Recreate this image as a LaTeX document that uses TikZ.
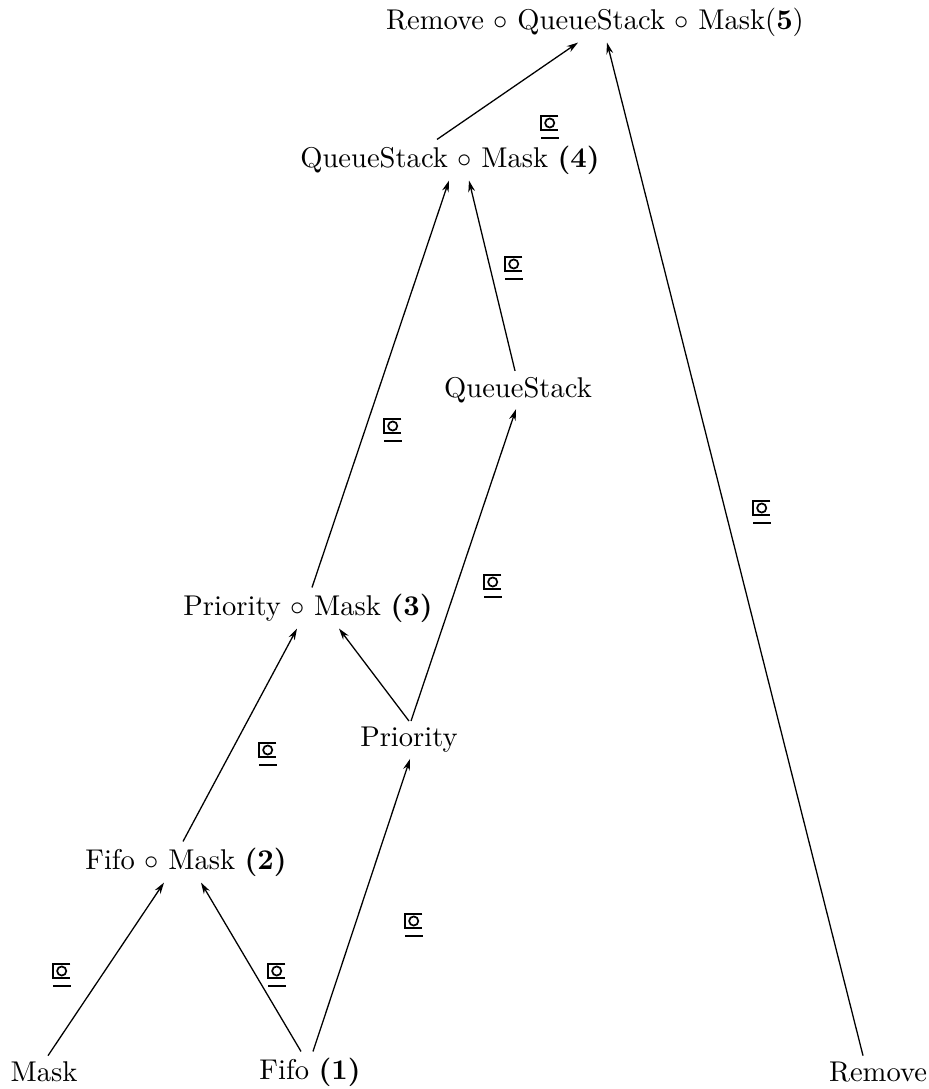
\documentclass[tikz,border=0pt]{standalone}
\usetikzlibrary{arrows.meta,calc}
\newsavebox\symbox
\sbox\symbox{\tikz[line width=0.6pt,baseline=0pt]{
  \draw (6pt,6.4pt) -- (0,6.4pt) -- (0,1.4pt) -- (6pt,1.4pt);
  \draw (3pt,3.9pt) circle (1.6pt);
  \draw (0,-1.4pt) -- (6.2pt,-1.4pt);
}}
\tikzset{
  lab/.style={font=\normalsize, inner sep=2pt},
  sym/.style={inner sep=0pt},
  arr/.style={line width=0.45pt, -{Stealth[length=4pt,width=2.4pt]}}
}
\begin{document}
\begin{tikzpicture}[x=0.35pt,y=-0.35pt]
\useasboundingbox (0,0) rectangle (928,1089);
\node[lab] (n5) at (595,22) {Remove $\circ$ QueueStack $\circ$ Mask(\textbf{5})};
\node[lab] (n4) at (450,160) {QueueStack $\circ$ Mask \textbf{(4)}};
\node[lab] (qs) at (518,390) {QueueStack};
\node[lab] (n3) at (308,608) {Priority $\circ$ Mask \textbf{(3)}};
\node[lab] (pr) at (409,740) {Priority};
\node[lab] (n2) at (186,862) {Fifo $\circ$ Mask \textbf{(2)}};
\node[lab] (mask) at (44,1072) {Mask};
\node[lab] (fifo) at (310,1072) {Fifo \textbf{(1)}};
\node[lab] (rem) at (878,1072) {Remove};

\draw[arr] ($(mask.north)+(4,0)$) -- ($(n2.south)+(-22,0)$);
\draw[arr] ($(fifo.north)+(-9,0)$) -- ($(n2.south)+(15,0)$);
\draw[arr] ($(fifo.north)+(3,0)$) -- ($(pr.south)+(1,0)$);
\draw[arr] ($(n2.north)+(-3,0)$) -- ($(n3.south)+(-11,0)$);
\draw[arr] ($(pr.north)+(0,0)$) -- ($(n3.south)+(31,0)$);
\draw[arr] ($(pr.north)+(2,0)$) -- ($(qs.south)+(-2,0)$);
\draw[arr] ($(n3.north)+(4,0)$) -- ($(n4.south)+(-1,0)$);
\draw[arr] ($(qs.north)+(-3,0)$) -- ($(n4.south)+(19,0)$);
\draw[arr] ($(n4.north)+(-13,0)$) -- ($(n5.south)+(-17,0)$);
\draw[arr] ($(rem.north)+(-15,0)$) -- ($(n5.south)+(12,0)$);

\node[sym] (l1) at (62,975) {\usebox\symbox};
\node[sym] (l2) at (277,975) {\usebox\symbox};
\node[sym] (l3) at (414,925) {\usebox\symbox};
\node[sym] (l4) at (268,754) {\usebox\symbox};
\node[sym] (l6) at (493,586) {\usebox\symbox};
\node[sym] (l7) at (393,430) {\usebox\symbox};
\node[sym] (l8) at (514,268) {\usebox\symbox};
\node[sym] (l9) at (550,127) {\usebox\symbox};
\node[sym] (l10) at (762,512) {\usebox\symbox};
\end{tikzpicture}
\end{document}
